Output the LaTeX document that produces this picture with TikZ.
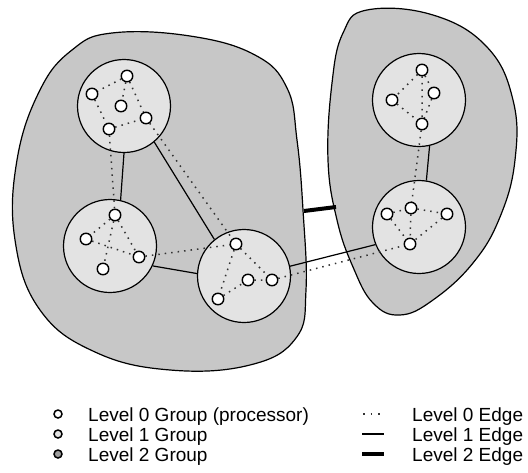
\documentclass[tikz,border=0pt]{standalone}
\usepackage{fontspec}
\setmainfont{Liberation Sans}
\pgfdeclarelayer{back}
\pgfdeclarelayer{mid}
\pgfsetlayers{back,mid,main}
\definecolor{blobgray}{gray}{0.78}
\definecolor{grpgray}{gray}{0.89}
\definecolor{lvtwogray}{gray}{0.62}
\begin{document}
\begin{tikzpicture}[x=1pt,y=-1pt,
  blob/.style={draw=black,line width=1.2pt,fill=blobgray},
  grp/.style={circle,draw=black,line width=1.2pt,fill=grpgray,minimum size=93pt,inner sep=0pt},
  proc/.style={circle,draw=black,line width=1.4pt,fill=white,minimum size=11.5pt,inner sep=0pt},
  lvzero/.style={line width=1.5pt,dash pattern=on 1.5pt off 5pt,black!80},
  lvone/.style={line width=1.2pt},
  lvtwo/.style={line width=4pt},
  keymark/.style={circle,draw=black,line width=1.5pt,minimum size=8pt,inner sep=0pt},
  lbl/.style={anchor=base west,inner sep=0pt,font=\fontsize{19}{21}\selectfont}
]
\useasboundingbox (0,0) rectangle (528,472);

% level-2 groups and level-1 groups
\begin{pgfonlayer}{back}
  \draw[blob] plot[smooth cycle,tension=0.7] coordinates {
    (112,33) (190,36) (255,55) (287,88) (297,140) (303,210) (306,290)
    (296,338) (250,365) (170,370) (95,352) (40,310) (15,240) (17,160)
    (40,90) (72,50)};
  \draw[blob] plot[smooth cycle,tension=0.7] coordinates {
    (367,10) (433,15) (487,47) (513,100) (515,160) (500,217) (473,263)
    (433,300) (400,315) (373,303) (353,267) (337,220) (328,160) (332,83)
    (343,33)};
  \node[grp] (A) at (124,106) {};
  \node[grp] (B) at (110,246) {};
  \node[grp] (C) at (244,276) {};
  \node[grp] (D) at (419,100) {};
  \node[grp] (E) at (419,227) {};
\end{pgfonlayer}

% processors
\node[proc] (a0) at (127,76) {};
\node[proc] (a1) at (92,94) {};
\node[proc] (a2) at (121,106) {};
\node[proc] (a3) at (146,118) {};
\node[proc] (a4) at (109,129) {};
\node[proc] (b0) at (115,215) {};
\node[proc] (b1) at (86,239) {};
\node[proc] (b2) at (139,257) {};
\node[proc] (b3) at (103,269) {};
\node[proc] (c0) at (236,244) {};
\node[proc] (c1) at (248,280) {};
\node[proc] (c2) at (272,280) {};
\node[proc] (c3) at (218,299) {};
\node[proc] (d0) at (422,70) {};
\node[proc] (d1) at (392,100) {};
\node[proc] (d2) at (434,93) {};
\node[proc] (d3) at (422,124) {};
\node[proc] (e0) at (411,208) {};
\node[proc] (e1) at (387,214) {};
\node[proc] (e2) at (447,214) {};
\node[proc] (e3) at (410,244) {};

\coordinate (gL) at (304,211);
\coordinate (gR) at (336,207);

\begin{pgfonlayer}{mid}
  % level 0 edges inside groups
  \draw[lvzero] (a0) -- (a1) (a0) -- (a2) (a0) -- (a3) (a1) -- (a4) (a4) -- (a3);
  \draw[lvzero] (b0) -- (b1) (b0) -- (b2) (b1) -- (b2) (b0) -- (b3);
  \draw[lvzero] (c0) -- (c3) (c0) -- (c2) (c1) -- (c2) (c3) -- (c1);
  \draw[lvzero] (d0) -- (d1) (d0) -- (d2) (d0) -- (d3) (d1) -- (d3) (d2) -- (d3);
  \draw[lvzero] (e1) -- (e0) (e0) -- (e2) (e1) -- (e3) (e2) -- (e3) (e0) -- (e3);
  % level 0 edges between groups
  \draw[lvzero] (a4) -- (b0) (a3) -- (c0) (b2) -- (c0) (c2) -- (e3) (d3) -- (e0);
  % level 1 edges
  \draw[lvone] (A.-90) -- (B.77);
  \draw[lvone] (A.-50) -- (C.129);
  \draw[lvone] (B.-25) -- (C.177);
  \draw[lvone] (C.12) -- (E.202);
  \draw[lvone] (D.-77) -- (E.81);
  % level 2 edge
  \draw[lvtwo] (gL) -- (gR);
\end{pgfonlayer}

% key
\node[keymark,fill=white] (k0) at (58,414) {};
\node[keymark,fill=grpgray] (k1) at (58,434) {};
\node[keymark,fill=lvtwogray] (k2) at (58,454) {};
\node[lbl] (t0) at (88,421) {Level 0 Group (processor)};
\node[lbl] (t1) at (88,441) {Level 1 Group};
\node[lbl] (t2) at (88,461) {Level 2 Group};
\coordinate (e0a) at (362,414);
\coordinate (e0b) at (384,414);
\coordinate (e1a) at (362,434);
\coordinate (e1b) at (384,434);
\coordinate (e2a) at (362,454);
\coordinate (e2b) at (384,454);
\draw[lvzero,dash pattern=on 1.5pt off 6pt,dash phase=-1pt] (e0a) -- (e0b);
\draw[lvone] (e1a) -- (e1b);
\draw[lvtwo] (e2a) -- (e2b);
\node[lbl] (u0) at (412,421) {Level 0 Edge};
\node[lbl] (u1) at (412,441) {Level 1 Edge};
\node[lbl] (u2) at (412,461) {Level 2 Edge};
\end{tikzpicture}
\end{document}
